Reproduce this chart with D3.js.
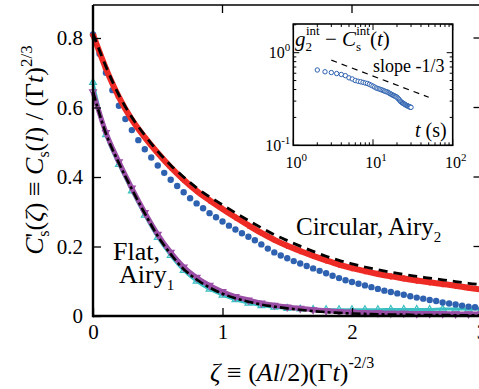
<!DOCTYPE html>
<html>
<head>
<meta charset="utf-8">
<script src="https://cdn.jsdelivr.net/npm/d3@7"></script>
<style>
  body { margin: 0; background: #fff; }
</style>
</head>
<body>
<svg id="chart" width="479" height="389"></svg>
<script>
// zeta grid (coarse) for the theory curves and most series
const zeta = [0,0.1,0.2,0.3,0.4,0.5,0.6,0.7,0.8,0.9,1.0,1.1,1.2,1.3,1.4,1.5,1.6,1.7,1.8,1.9,2.0,2.1,2.2,2.3,2.4,2.5,2.6,2.7,2.8,2.9,3.0];
// finer grid for the blue circles
const zetaFine = [0,0.05,0.1,0.15,0.2,0.25,0.3,0.35,0.4,0.45,0.5,0.55,0.6,0.65,0.7,0.75,0.8,0.85,0.9,0.95,1.0,1.05,1.1,1.15,1.2,1.25,1.3,1.35,1.4,1.45,1.5,1.55,1.6,1.65,1.7,1.75,1.8,1.85,1.9,1.95,2.0,2.05,2.1,2.15,2.2,2.25,2.3,2.35,2.4,2.45,2.5,2.55,2.6,2.65,2.7,2.75,2.8,2.85,2.9,2.95,3.0];

// circular interface
const airy2 = [0.813,0.718,0.636,0.572,0.520,0.474,0.434,0.400,0.369,0.343,0.320,0.297,0.275,0.254,0.234,0.217,0.201,0.186,0.172,0.160,0.150,0.141,0.133,0.126,0.120,0.114,0.109,0.104,0.099,0.094,0.090];
const circRed = [0.810,0.712,0.630,0.565,0.514,0.469,0.428,0.392,0.360,0.333,0.308,0.284,0.261,0.239,0.219,0.202,0.187,0.173,0.160,0.148,0.138,0.129,0.121,0.114,0.108,0.102,0.097,0.092,0.087,0.081,0.076];
const circBlue = [0.810,0.755,0.700,0.650,0.605,0.567,0.535,0.506,0.480,0.456,0.433,0.412,0.392,0.374,0.356,0.339,0.324,0.310,0.296,0.284,0.272,0.260,0.249,0.238,0.228,0.218,0.206,0.194,0.183,0.174,0.166,0.158,0.151,0.144,0.137,0.130,0.123,0.116,0.109,0.103,0.098,0.093,0.088,0.083,0.078,0.073,0.069,0.065,0.061,0.057,0.053,0.050,0.046,0.043,0.039,0.036,0.033,0.030,0.027,0.025,0.022];

// flat interface
const airy1 = [0.645,0.525,0.440,0.365,0.295,0.230,0.178,0.135,0.105,0.082,0.064,0.051,0.041,0.033,0.027,0.022,0.018,0.014,0.011,0.009,0.007,0.006,0.005,0.004,0.004,0.003,0.003,0.003,0.002,0.002,0.002];
const flatPurple = [0.645,0.528,0.444,0.368,0.298,0.235,0.183,0.141,0.111,0.088,0.070,0.056,0.046,0.037,0.031,0.026,0.022,0.018,0.015,0.013,0.011,0.010,0.009,0.008,0.008,0.007,0.007,0.007,0.006,0.006,0.006];
const flatCyan = [0.672,0.522,0.436,0.360,0.290,0.226,0.174,0.131,0.100,0.077,0.060,0.047,0.037,0.030,0.025,0.022,0.020,0.019,0.018,0.018,0.018,0.018,0.018,0.019,0.019,0.019,0.019,0.020,0.020,0.020,0.020];

// inset: g2int - Csint(t)
const insetT = [2,2.5,3,3.5,4,4.5,5,5.5,6,6.5,7,7.5,8,8.5,9,9.5,10,10.5,11,11.5,12,12.5,13,13.5,14,14.5,15,15.5,16,16.5,17,17.5,18,18.5,19,19.5,20,20.5,21,21.5,22,22.5,23,23.5,24,24.5,25,25.5,26,26.5,27,27.5,28,28.5,29,29.5,30];
const insetV = [0.650,0.622,0.610,0.595,0.582,0.565,0.535,0.520,0.500,0.492,0.485,0.478,0.470,0.465,0.455,0.445,0.435,0.425,0.415,0.410,0.405,0.400,0.395,0.390,0.385,0.380,0.378,0.372,0.365,0.360,0.355,0.350,0.345,0.342,0.338,0.335,0.330,0.322,0.315,0.308,0.300,0.295,0.290,0.286,0.283,0.280,0.277,0.274,0.271,0.269,0.267,0.265,0.263,0.261,0.259,0.258,0.257];
const slopeT = [3, 50];
const slopeV = [0.83, 0.33];

const yTicks = [0, 0.2, 0.4, 0.6, 0.8];
const xTicks = [0, 1, 2, 3];

const RED = "#ee2a24", BLUE = "#2e62b0", PURPLE = "#9a4ea6", CYAN = "#3bbfc2";
const SERIF = '"Liberation Serif"';

const svg = d3.select("#chart");

// main scales
const x = d3.scaleLinear().domain([0, 3]).range([93, 481.5]);
const y = d3.scaleLinear().domain([0, 0.895]).range([316, 5]);

function lineFor(xs) {
  return d3.line()
    .x((d, i) => x(xs[i]))
    .y(d => y(d))
    .curve(d3.curveMonotoneX);
}

// ---- flat series ----
svg.append("path").datum(flatCyan)
  .attr("d", lineFor(zeta)).attr("fill", "none")
  .attr("stroke", CYAN).attr("stroke-width", 3);
svg.selectAll(".cyan").data(flatCyan).join("path")
  .attr("d", d3.symbol(d3.symbolTriangle, 20))
  .attr("transform", (d, i) => `translate(${x(zeta[i])},${y(d)})`)
  .attr("fill", "none").attr("stroke", CYAN).attr("stroke-width", 1.2);

svg.append("path").datum(flatPurple)
  .attr("d", lineFor(zeta)).attr("fill", "none")
  .attr("stroke", PURPLE).attr("stroke-width", 5);
svg.selectAll(".purple").data(flatPurple).join("path")
  .attr("d", d3.symbol(d3.symbolTriangle, 20))
  .attr("transform", (d, i) => `translate(${x(zeta[i])},${y(d)}) rotate(180)`)
  .attr("fill", "none").attr("stroke", PURPLE).attr("stroke-width", 1.2);

svg.append("path").datum(airy1)
  .attr("d", lineFor(zeta)).attr("fill", "none")
  .attr("stroke", "#000").attr("stroke-width", 2.6)
  .attr("stroke-dasharray", "9,3,3,3");

// ---- circular series ----
svg.selectAll(".blue").data(circBlue).join("circle")
  .attr("cx", (d, i) => x(zetaFine[i]))
  .attr("cy", d => y(d))
  .attr("r", 3.2).attr("fill", BLUE);

svg.append("path").datum(circRed)
  .attr("d", lineFor(zeta)).attr("fill", "none")
  .attr("stroke", RED).attr("stroke-width", 6);
svg.selectAll(".red").data(circRed).join("path")
  .attr("d", d3.symbol(d3.symbolCross, 22))
  .attr("transform", (d, i) => `translate(${x(zeta[i])},${y(d)})`)
  .attr("fill", RED);

svg.append("path").datum(airy2)
  .attr("d", lineFor(zeta)).attr("fill", "none")
  .attr("stroke", "#000").attr("stroke-width", 2.8)
  .attr("stroke-dasharray", "9,6");

// ---- main frame and ticks ----
const [x0, x1] = x.range(), [y0, y1] = y.range();
svg.append("line").attr("x1", x0).attr("x2", x1).attr("y1", y1).attr("y2", y1)
  .attr("stroke", "#000").attr("stroke-width", 1.5);
svg.append("line").attr("x1", x1).attr("x2", x1).attr("y1", y1).attr("y2", y0)
  .attr("stroke", "#000").attr("stroke-width", 1.5);

const yAxis = svg.append("g").attr("transform", `translate(${x0},0)`)
  .call(d3.axisLeft(y).tickValues(yTicks).tickSize(-8).tickPadding(10)
    .tickFormat(d => d === 0 ? "0" : d3.format(".1f")(d)));
const xAxis = svg.append("g").attr("transform", `translate(0,${y0})`)
  .call(d3.axisBottom(x).tickValues(xTicks).tickSize(-8).tickPadding(8)
    .tickFormat(d3.format("d")));
[yAxis, xAxis].forEach(g => {
  g.select(".domain").remove();
  g.selectAll(".tick line").attr("stroke", "#000").attr("stroke-width", 1.3);
  g.selectAll(".tick text").attr("font-size", 21).attr("fill", "#000");
});

// mirrored ticks on top and right
svg.selectAll(".topTick").data(xTicks.slice(1)).join("line")
  .attr("x1", d => x(d)).attr("x2", d => x(d))
  .attr("y1", y1).attr("y2", y1 + 8)
  .attr("stroke", "#000").attr("stroke-width", 1.3);
svg.selectAll(".rightTick").data(yTicks.slice(1)).join("line")
  .attr("x1", x1).attr("x2", x1 - 8)
  .attr("y1", d => y(d)).attr("y2", d => y(d))
  .attr("stroke", "#000").attr("stroke-width", 1.3);

svg.append("line").attr("x1", x0).attr("x2", x1).attr("y1", y0).attr("y2", y0)
  .attr("stroke", "#000").attr("stroke-width", 2.4);
svg.append("line").attr("x1", x0).attr("x2", x0).attr("y1", y1).attr("y2", y0 + 1.2)
  .attr("stroke", "#000").attr("stroke-width", 2.4);

// ---- axis titles ----
const yTitle = svg.append("text")
  .attr("transform", "translate(43,150) rotate(-90)")
  .attr("text-anchor", "middle").attr("font-size", 26);
yTitle.append("tspan").attr("font-style", "italic").text("C");
yTitle.append("tspan").text("'");
yTitle.append("tspan").attr("font-size", 16).attr("dx", -4).attr("dy", 6).text("s");
yTitle.append("tspan").attr("dy", -6).text("(");
yTitle.append("tspan").attr("font-style", "italic").text("ζ");
yTitle.append("tspan").text(") ≡ ");
yTitle.append("tspan").attr("font-style", "italic").text("C");
yTitle.append("tspan").attr("font-size", 16).attr("dy", 6).text("s");
yTitle.append("tspan").attr("dy", -6).text("(");
yTitle.append("tspan").attr("font-style", "italic").text("l");
yTitle.append("tspan").text(") / (Γ");
yTitle.append("tspan").attr("font-style", "italic").text("t");
yTitle.append("tspan").text(")");
yTitle.append("tspan").attr("font-size", 17).attr("dy", -11).text("2/3");

const xTitle = svg.append("text")
  .attr("x", 210).attr("y", 381).attr("font-size", 26);
xTitle.append("tspan").attr("font-style", "italic").text("ζ");
xTitle.append("tspan").text(" ≡ (");
xTitle.append("tspan").attr("font-style", "italic").text("Al");
xTitle.append("tspan").text("/2)(Γ");
xTitle.append("tspan").attr("font-style", "italic").text("t");
xTitle.append("tspan").text(")");
xTitle.append("tspan").attr("font-size", 16).attr("dy", -13).text("-2/3");

// ---- annotations ----
const circ = svg.append("text").attr("x", 296).attr("y", 235).attr("font-size", 25);
circ.append("tspan").text("Circular, Airy");
circ.append("tspan").attr("font-size", 15).attr("dy", 7).text("2");

svg.append("text").attr("x", 113).attr("y", 260).attr("font-size", 26).text("Flat,");
const flat = svg.append("text").attr("x", 119).attr("y", 283).attr("font-size", 26);
flat.append("tspan").text("Airy");
flat.append("tspan").attr("font-size", 15).attr("dy", 7).text("1");

// ---- inset ----
const xl = d3.scaleLog().domain([1, 100]).range([293.3, 452.7]);
const yl = d3.scaleLog().domain([0.1, 2.04]).range([145.3, 24]);
const inset = svg.append("g");
const [ix0, ix1] = xl.range(), [iy0, iy1] = yl.range();
inset.append("rect").attr("x", ix0).attr("y", iy1)
  .attr("width", ix1 - ix0).attr("height", iy0 - iy1).attr("fill", "#fff");

const xMajor = [1, 10, 100], yMajor = [0.1, 1];
const xMinor = [2,3,4,5,6,7,8,9,20,30,40,50,60,70,80,90];
const yMinor = [0.2,0.3,0.4,0.5,0.6,0.7,0.8,0.9,2];
const tickLines = [
  ...xMajor.map(v => ({ v, len: 6, ax: "x" })), ...xMinor.map(v => ({ v, len: 3, ax: "x" })),
  ...yMajor.map(v => ({ v, len: 6, ax: "y" })), ...yMinor.map(v => ({ v, len: 3, ax: "y" }))
];
tickLines.forEach(t => {
  if (t.ax === "x") {
    const px = xl(t.v);
    inset.append("line").attr("x1", px).attr("x2", px).attr("y1", iy0).attr("y2", iy0 - t.len);
    inset.append("line").attr("x1", px).attr("x2", px).attr("y1", iy1).attr("y2", iy1 + t.len);
  } else {
    const py = yl(t.v);
    inset.append("line").attr("x1", ix0).attr("x2", ix0 + t.len).attr("y1", py).attr("y2", py);
    inset.append("line").attr("x1", ix1).attr("x2", ix1 - t.len).attr("y1", py).attr("y2", py);
  }
});
inset.selectAll("line").attr("stroke", "#000").attr("stroke-width", 1);
inset.append("rect").attr("x", ix0).attr("y", iy1)
  .attr("width", ix1 - ix0).attr("height", iy0 - iy1)
  .attr("fill", "none").attr("stroke", "#000").attr("stroke-width", 1.6);

// inset tick labels
function powLabel(g, px, py, exp, anchor) {
  const t = g.append("text").attr("x", px).attr("y", py)
    .attr("font-size", 16).attr("text-anchor", anchor);
  t.append("tspan").text("10");
  t.append("tspan").attr("font-size", 11).attr("dy", -7).text(exp);
}
xMajor.forEach(v => powLabel(inset, xl(v) + 3, 168, String(Math.round(Math.log10(v))), "middle"));
yMajor.forEach(v => powLabel(inset, ix0 - 3, yl(v) + 5.5, String(Math.round(Math.log10(v))), "end"));

// slope guide
inset.append("path").datum(slopeV)
  .attr("d", d3.line().x((d, i) => xl(slopeT[i])).y(d => yl(d)))
  .attr("fill", "none").attr("stroke", "#000").attr("stroke-width", 1.2)
  .attr("stroke-dasharray", "6,5");

inset.selectAll(".pt").data(insetV).join("circle")
  .attr("cx", (d, i) => xl(insetT[i])).attr("cy", d => yl(d))
  .attr("r", 2.2).attr("fill", "#fff").attr("stroke", BLUE).attr("stroke-width", 1);

// inset texts
const it = inset.append("text").attr("x", 295).attr("y", 46).attr("font-size", 21);
it.append("tspan").attr("font-style", "italic").text("g");
it.append("tspan").attr("font-size", 13).attr("dy", 5).text("2");
it.append("tspan").attr("font-size", 13).attr("dx", -6).attr("dy", -16).text("int");
it.append("tspan").attr("dy", 11).text(" − ");
it.append("tspan").attr("font-style", "italic").text("C");
it.append("tspan").attr("font-size", 13).attr("dy", 5).text("s");
it.append("tspan").attr("font-size", 13).attr("dx", -5).attr("dy", -16).text("int");
it.append("tspan").attr("dy", 11).text("(");
it.append("tspan").attr("font-style", "italic").text("t");
it.append("tspan").text(")");

inset.append("text").attr("x", 373).attr("y", 72).attr("font-size", 18).text("slope -1/3");
const ts = inset.append("text").attr("x", 415).attr("y", 137).attr("font-size", 20);
ts.append("tspan").attr("font-style", "italic").text("t");
ts.append("tspan").text(" (s)");

// serif everywhere
svg.selectAll("text").style("font-family", SERIF).style("fill", "#000");
</script>
</body>
</html>
